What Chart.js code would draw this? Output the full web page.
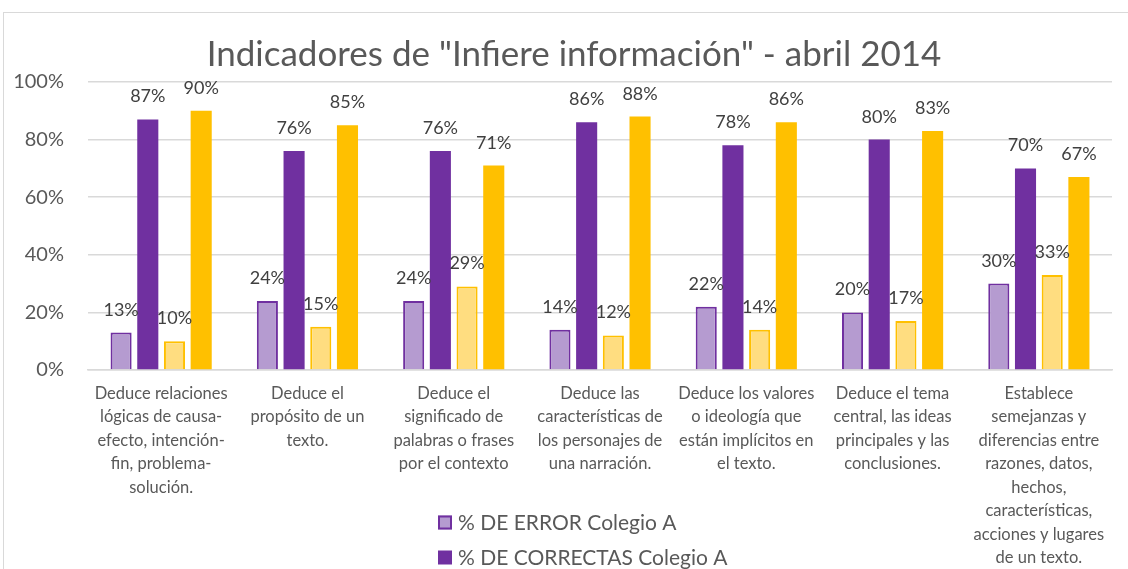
<!DOCTYPE html>
<html lang="es">
<head>
  <meta charset="UTF-8" />
  <title>Indicadores de "Infiere información" - abril 2014</title>
  <script src="https://cdn.jsdelivr.net/npm/chart.js"></script>
  <style>
    html, body { margin: 0; padding: 0; background: #fff; }
    #wrap { width: 1128px; height: 569px; position: relative; overflow: hidden; }
  </style>
</head>
<body>
  <div id="wrap"><canvas id="chart" width="1128" height="569"></canvas></div>

  <script>
    const titulo = 'Indicadores de "Infiere información" - abril 2014';

    // Indicadores (categorías del eje X, con sus saltos de línea)
    const categorias = [
      ["Deduce relaciones", "lógicas de causa-", "efecto, intención-", "fin, problema-", "solución."],
      ["Deduce el", "propósito de un", "texto."],
      ["Deduce el", "significado de", "palabras o frases", "por el contexto"],
      ["Deduce las", "características de", "los personajes de", "una narración."],
      ["Deduce los valores", "o ideología que", "están implícitos en", "el texto."],
      ["Deduce el tema", "central, las ideas", "principales y las", "conclusiones."],
      ["Establece", "semejanzas y", "diferencias entre", "razones, datos,", "hechos,", "características,", "acciones y lugares", "de un texto."]
    ];

    // Porcentajes por serie
    const errorA     = [13, 24, 24, 14, 22, 20, 30];
    const correctasA = [87, 76, 76, 86, 78, 80, 70];
    const errorB     = [10, 15, 29, 12, 14, 17, 33];
    const correctasB = [90, 85, 71, 88, 86, 83, 67];

    const ticksY = [0, 20, 40, 60, 80, 100];

    const FONT = "Lato, 'Open Sans', sans-serif";
    const GRIS = "#595959";

    // etiquetas de valor encima de cada barra
    const etiquetas = {
      id: 'etiquetas',
      afterDatasetsDraw(chart) {
        const ctx = chart.ctx;
        ctx.save();
        ctx.font = "18px " + FONT;
        ctx.fillStyle = "#404040";
        ctx.textAlign = "center";
        ctx.textBaseline = "alphabetic";
        chart.data.datasets.forEach((ds, i) => {
          chart.getDatasetMeta(i).data.forEach((bar, j) => {
            ctx.fillText(ds.data[j] + "%", bar.x, bar.y - 17);
          });
        });
        ctx.restore();
      }
    };

    // marco, título y leyenda vertical (como en Excel, queda cortada abajo)
    const marcoLeyenda = {
      id: 'marcoLeyenda',
      beforeDraw(chart) {
        const ctx = chart.ctx;
        ctx.save();
        ctx.strokeStyle = "#d9d9d9";
        ctx.lineWidth = 1;
        ctx.strokeRect(3.5, 12.5, 1200, 700);
        ctx.font = "35px " + FONT;
        ctx.fillStyle = GRIS;
        ctx.textAlign = "center";
        ctx.textBaseline = "middle";
        ctx.fillText(titulo, 574, 55);
        ctx.restore();
      },
      afterDraw(chart) {
        const ctx = chart.ctx;
        ctx.save();
        ctx.font = "21px " + FONT;
        ctx.textBaseline = "middle";
        chart.data.datasets.forEach((ds, i) => {
          const y = 522.5 + i * 35;
          ctx.fillStyle = ds.backgroundColor;
          ctx.fillRect(438, y - 7, 14, 14);
          if (ds.borderWidth) {
            ctx.strokeStyle = ds.borderColor;
            ctx.lineWidth = 2;
            ctx.strokeRect(439, y - 6, 12, 12);
          }
          ctx.fillStyle = GRIS;
          ctx.fillText(ds.label, 458, y + 1);
        });
        ctx.restore();
      }
    };

    const ctx = document.getElementById("chart").getContext("2d");

    new Chart(ctx, {
      type: "bar",
      data: {
        labels: categorias,
        datasets: [
          { label: "% DE ERROR Colegio A", data: errorA, backgroundColor: "#b59bd0", borderColor: "#7030a0", borderWidth: 2 },
          { label: "% DE CORRECTAS Colegio A", data: correctasA, backgroundColor: "#7030a0", borderWidth: 0 },
          { label: "% DE ERROR Colegio B", data: errorB, backgroundColor: "#ffdd80", borderColor: "#ffc000", borderWidth: 2 },
          { label: "% DE CORRECTAS Colegio B", data: correctasB, backgroundColor: "#ffc000", borderWidth: 0 }
        ]
      },
      options: {
        responsive: false,
        animation: false,
        devicePixelRatio: 1,
        categoryPercentage: 0.73,
        barPercentage: 0.79,
        layout: { padding: { top: 82, left: 0, right: 16, bottom: 0 } },
        plugins: {
          legend: { display: false },
          tooltip: { enabled: false },
          title: { display: false }
        },
        scales: {
          x: {
            afterFit: scale => { scale.height = 199; },
            grid: { display: false, drawTicks: false },
            border: { color: "#d9d9d9", width: 1.5 },
            ticks: {
              color: GRIS,
              font: { family: FONT, size: 16.5, lineHeight: 1.42 },
              padding: 12,
              maxRotation: 0,
              autoSkip: false
            }
          },
          y: {
            min: 0,
            max: 100,
            afterBuildTicks: scale => { scale.ticks = ticksY.map(v => ({ value: v })); },
            afterFit: scale => { scale.width = 88; },
            grid: { color: "#d9d9d9", lineWidth: 1.5, drawTicks: false },
            border: { display: false },
            ticks: {
              color: GRIS,
              font: { family: FONT, size: 20 },
              padding: 24,
              callback: v => v + "%"
            }
          }
        }
      },
      plugins: [etiquetas, marcoLeyenda]
    });
  </script>
</body>
</html>
